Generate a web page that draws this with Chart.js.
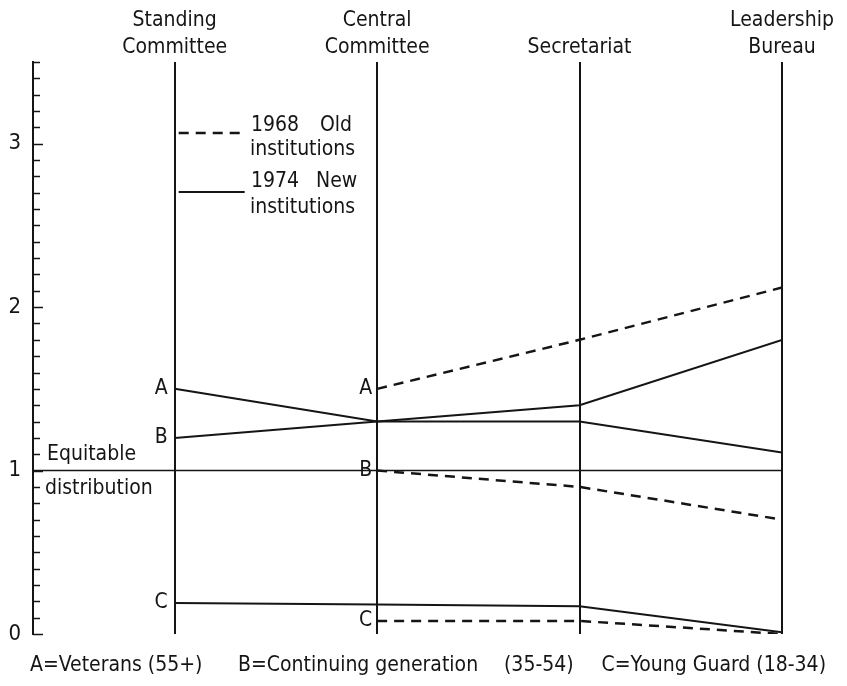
<!DOCTYPE html>
<html>
<head>
<meta charset="utf-8">
<script src="https://cdn.jsdelivr.net/npm/chart.js@4"></script>
<style>
	html, body { margin: 0; padding: 0; background: #fff; }
	#wrap { width: 847px; height: 686px; position: relative; }
</style>
</head>
<body>
<div id="wrap"><canvas id="myChart" width="847" height="686"></canvas></div>
<script>
// categories (institutions) and their header labels
const categories = ["Standing Committee", "Central Committee", "Secretariat", "Leadership Bureau"];
const tickLabels = [["Standing", "Committee"], ["Central", "Committee"], ["Secretariat"], ["Leadership", "Bureau"]];

// 1974 new institutions (solid)
const new1974A = [1.5, 1.3, 1.3, 1.11];
const new1974B = [1.2, 1.3, 1.4, 1.8];
const new1974C = [0.19, 0.18, 0.17, 0.01];

// 1968 old institutions (dashed), no Standing Committee then
const old1968A = [null, 1.5, 1.8, 2.12];
const old1968B = [null, 1.0, 0.9, 0.7];
const old1968C = [null, 0.08, 0.08, 0.0];

const groupNames = ["A", "B", "C"];
const equitable = 1;
const yTicks = [0, 1, 2, 3];

const FONT = "'DejaVu Sans Condensed', 'Liberation Sans Narrow', 'Roboto Condensed', 'DejaVu Sans', sans-serif";
const INK = "#151515";

const toPoints = arr => arr.map((v, i) => ({ x: i, y: v })).filter(p => p.y !== null);

const solid = (label, arr) => ({
	label: label,
	data: toPoints(arr),
	borderColor: INK,
	borderWidth: 2,
	pointRadius: 0,
	fill: false,
	tension: 0,
});
const dashed = (label, arr) => ({
	label: label,
	data: toPoints(arr),
	borderColor: INK,
	borderWidth: 2.5,
	borderDash: [10, 7],
	pointRadius: 0,
	fill: false,
	tension: 0,
});

// draws the inward axis ticks, A/B/C markers, key and footnote
const extrasPlugin = {
	id: "extras",
	afterDraw(chart) {
		const ctx = chart.ctx;
		const x = chart.scales.x;
		const y = chart.scales.y;
		const area = chart.chartArea;
		ctx.save();
		ctx.strokeStyle = INK;
		ctx.fillStyle = INK;

		// inward ticks on y axis
		ctx.lineWidth = 1.5;
		y.ticks.forEach(t => {
			const py = Math.round(y.getPixelForValue(t.value)) + 0.5;
			const major = Math.abs(t.value - Math.round(t.value)) < 1e-6;
			ctx.beginPath();
			ctx.moveTo(area.left, py);
			ctx.lineTo(area.left + (major ? 10 : 7), py);
			ctx.stroke();
		});

		// A / B / C markers at the start of each series
		ctx.font = "21px " + FONT;
		ctx.textAlign = "right";
		ctx.textBaseline = "middle";
		[new1974A, new1974B, new1974C].forEach((arr, k) => {
			ctx.fillText(groupNames[k], x.getPixelForValue(0) - 7, y.getPixelForValue(arr[0]));
		});
		[old1968A, old1968B, old1968C].forEach((arr, k) => {
			ctx.fillText(groupNames[k], x.getPixelForValue(1) - 5, y.getPixelForValue(arr[1]));
		});

		// key
		const kx = x.getPixelForValue(0) + 4;
		ctx.lineWidth = 2.5;
		ctx.setLineDash([10, 7]);
		ctx.beginPath();
		ctx.moveTo(kx, 133);
		ctx.lineTo(kx + 62, 133);
		ctx.stroke();
		ctx.setLineDash([]);
		ctx.lineWidth = 2;
		ctx.beginPath();
		ctx.moveTo(kx, 192);
		ctx.lineTo(kx + 66, 192);
		ctx.stroke();
		ctx.textAlign = "left";
		ctx.font = "21px " + FONT;
		ctx.fillText("1968", 251, 126);
		ctx.fillText("Old", 320, 126);
		ctx.fillText("institutions", 250, 150);
		ctx.fillText("1974", 251, 182);
		ctx.fillText("New", 316, 182);
		ctx.fillText("institutions", 250, 208);

		// equitable distribution label
		const ey = y.getPixelForValue(equitable);
		ctx.fillText("Equitable", 47, ey - 16);
		ctx.fillText("distribution", 45, ey + 18);

		// footnote
		ctx.fillText("A=Veterans (55+)", 30, 666);
		ctx.fillText("B=Continuing generation", 238, 666);
		ctx.fillText("(35-54)", 504, 666);
		ctx.textAlign = "right";
		ctx.fillText("C=Young Guard (18-34)", 826, 666);
		ctx.restore();
	},
};

const data = {
	datasets: [
		{
			label: "Equitable distribution",
			data: [{ x: -0.7, y: equitable }, { x: categories.length - 1, y: equitable }],
			borderColor: INK,
			borderWidth: 1.5,
			pointRadius: 0,
		},
		solid("1974 A", new1974A),
		solid("1974 B", new1974B),
		solid("1974 C", new1974C),
		dashed("1968 A", old1968A),
		dashed("1968 B", old1968B),
		dashed("1968 C", old1968C),
	],
};

const config = {
	type: "line",
	data,
	options: {
		responsive: false,
		animation: false,
		layout: { padding: { left: 0, right: 65, top: 0, bottom: 52 } },
		plugins: { legend: { display: false }, tooltip: { enabled: false } },
		scales: {
			x: {
				type: "linear",
				position: "top",
				min: -0.7,
				max: categories.length - 1,
				afterBuildTicks: s => {
					s.ticks = categories.map((c, i) => ({ value: i }));
				},
				afterFit: s => {
					s.height = 62;
				},
				ticks: {
					autoSkip: false,
					maxRotation: 0,
					padding: 1,
					color: INK,
					font: { family: FONT, size: 21, lineHeight: 1.3 },
					callback: v => tickLabels[v] || "",
				},
				grid: { display: true, color: INK, lineWidth: 2, drawTicks: false },
				border: { display: false },
			},
			y: {
				min: 0,
				max: 3.5,
				afterFit: s => {
					s.width = 33;
				},
				ticks: {
					stepSize: 0.1,
					autoSkip: false,
					padding: 12,
					color: INK,
					font: { family: FONT, size: 22 },
					callback: v => {
						const r = Math.round(v);
						return Math.abs(v - r) < 1e-6 && yTicks.includes(r) ? String(r) : "";
					},
				},
				grid: { display: false, drawTicks: false },
				border: { display: true, color: INK, width: 2 },
			},
		},
	},
	plugins: [extrasPlugin],
};

let myChart = new Chart(document.getElementById("myChart"), config);
</script>
</body>
</html>
